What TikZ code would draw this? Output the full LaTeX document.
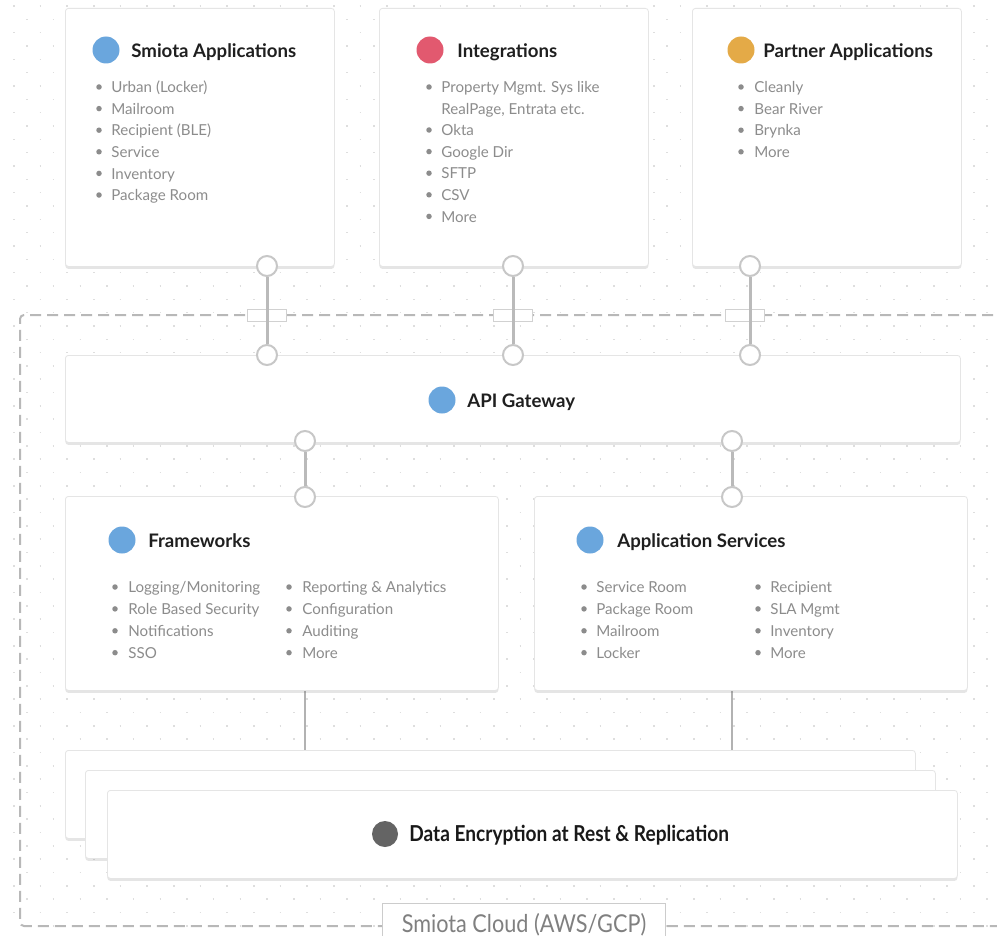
\documentclass[tikz,border=0pt]{standalone}
\usepackage{fontspec}
\setmainfont{Lato}
\newfontfamily\narrowfont[FakeStretch=0.87]{Lato}
\newfontfamily\tagfont[FakeStretch=0.88]{Lato}
\usetikzlibrary{shadows,backgrounds}
\definecolor{dotblue}{HTML}{6AA6DD}
\definecolor{dotred}{HTML}{E2596F}
\definecolor{dotorange}{HTML}{E4AA47}
\definecolor{dotdark}{HTML}{646464}
\newlength\px
\setlength\px{0.02cm}

\begin{document}
\begin{tikzpicture}
		[x=0.02cm,y=-0.02cm,
		card/.style={draw=black!10,fill=white,rounded corners=3\px,line width=0.8\px,
anchor=north west,inner sep=0pt,
drop shadow={opacity=0.14,shadow xshift=0pt,shadow yshift=-2.5\px,fill=black!70}},
		port/.style={circle,draw=black!22,fill=white,line width=2\px,
inner sep=0pt,minimum size=20\px},
		wire/.style={draw=black!27,line width=3\px},
		link/.style={draw=black!30,line width=1.5\px},
		dot/.style={circle,inner sep=0pt,minimum size=27\px},
		title/.style={anchor=west,inner sep=0pt,text=black!88,
text height=10.4pt,text depth=2pt,
font=\bfseries\fontsize{10.6}{12}\selectfont},
		bullet/.style={circle,fill=black!45,inner sep=0pt,minimum size=5.5\px},
		item/.style={anchor=west,inner sep=0pt,text=black!45,
text height=8.4pt,text depth=2pt,
font=\fontsize{8.6}{10}\selectfont},
		gridline/.style={draw=black!13,line width=1.5\px,
dash pattern=on 1.5\px off 25.17\px},
		cloudline/.style={draw=black!28,line width=2\px,rounded corners=4\px,
dash pattern=on 11\px off 6\px},
		gate/.style={draw=black!18,fill=white,line width=1\px,
inner sep=0pt,minimum width=39\px,minimum height=12\px},
		cloudtag/.style={draw=black!20,fill=white,line width=1\px,text=black!50,
minimum width=283\px,minimum height=40\px,text height=13pt,text depth=2.6pt,
font=\tagfont\fontsize{14}{16}\selectfont}]
		\useasboundingbox (0,0) rectangle (997,936);

		% client side
		\node[card,minimum width=269\px,minimum height=258\px] (sa) at (65,8) {};
		\node[dot,fill=dotblue] (sa-d) at (106,50) {};
		\node[title] (sa-t) at (131,50) {Smiota Applications};
		\foreach \t [count=\i] in {Urban (Locker),Mailroom,Recipient (BLE),Service,Inventory,Package Room} {
			\node[bullet] (sa-b\i) at (99,{65.4+21.6*\i}) {};
			\node[item] (sa-i\i) at (111,{65.4+21.6*\i}) {\t};
		}

		\node[card,minimum width=269\px,minimum height=258\px] (ig) at (379,8) {};
		\node[dot,fill=dotred] (ig-d) at (430,50) {};
		\node[title] (ig-t) at (457,50) {Integrations};
		\node[bullet] (ig-b1) at (429,87) {};
		\node[item] (ig-i1) at (441,87) {Property Mgmt. Sys like};
		\node[item] (ig-i1b) at (441,108.6) {RealPage, Entrata etc.};
		\foreach \t [count=\i from 2] in {Okta,Google Dir,SFTP,CSV,More} {
			\node[bullet] (ig-b\i) at (429,{86.8+21.6*\i}) {};
			\node[item] (ig-i\i) at (441,{86.8+21.6*\i}) {\t};
		}

		\node[card,minimum width=269\px,minimum height=258\px] (pa) at (692,8) {};
		\node[dot,fill=dotorange] (pa-d) at (741,50) {};
		\node[title] (pa-t) at (763,50) {Partner Applications};
		\foreach \t [count=\i] in {Cleanly,Bear River,Brynka,More} {
			\node[bullet] (pa-b\i) at (741,{65.4+21.6*\i}) {};
			\node[item] (pa-i\i) at (754,{65.4+21.6*\i}) {\t};
		}

		% cloud side
		\node[card,minimum width=895\px,minimum height=87\px] (gw) at (65,355) {};
		\node[dot,fill=dotblue] (gw-d) at (442,400) {};
		\node[title] (gw-t) at (467,400) {API Gateway};

		\node[card,minimum width=433\px,minimum height=194\px] (fw) at (65,496) {};
		\node[dot,fill=dotblue] (fw-d) at (122,540) {};
		\node[title] (fw-t) at (148,540) {Frameworks};
		\foreach \t [count=\i] in {Logging/Monitoring,Role Based Security,Notifications,SSO} {
			\node[bullet] (fw-b\i) at (115,{565.1+21.9*\i}) {};
			\node[item] (fw-i\i) at (128,{565.1+21.9*\i}) {\t};
		}
		\foreach \t [count=\i] in {Reporting \& Analytics,Configuration,Auditing,More} {
			\node[bullet] (fw-c\i) at (289,{565.1+21.9*\i}) {};
			\node[item] (fw-j\i) at (302,{565.1+21.9*\i}) {\t};
		}

		\node[card,minimum width=433\px,minimum height=194\px] (as) at (534,496) {};
		\node[dot,fill=dotblue] (as-d) at (590,540) {};
		\node[title] (as-t) at (617,540) {Application Services};
		\foreach \t [count=\i] in {Service Room,Package Room,Mailroom,Locker} {
			\node[bullet] (as-b\i) at (584,{565.1+21.9*\i}) {};
			\node[item] (as-i\i) at (596,{565.1+21.9*\i}) {\t};
		}
		\foreach \t [count=\i] in {Recipient,SLA Mgmt,Inventory,More} {
			\node[bullet] (as-c\i) at (758,{565.1+21.9*\i}) {};
			\node[item] (as-j\i) at (770,{565.1+21.9*\i}) {\t};
		}

		% storage stack
		\node[card,minimum width=850\px,minimum height=88\px] (st1) at (65,750) {};
		\node[card,minimum width=850\px,minimum height=88\px] (st2) at (85,770) {};
		\node[card,minimum width=850\px,minimum height=88\px] (st3) at (107,790) {};
		\node[dot,fill=dotdark,minimum size=26\px] (st-d) at (385,834) {};
		\node[anchor=west,inner sep=0pt,text=black!90,
text height=11pt,text depth=2.4pt,
font=\narrowfont\bfseries\fontsize{12.5}{14}\selectfont] (st-t) at (409,834)
			{Data Encryption at Rest \& Replication};

		% ports
		\node[port] (sa-p) at (267,266) {};
		\node[port] (ig-p) at (513,266) {};
		\node[port] (pa-p) at (750,266) {};
		\node[port] (gw-p1) at (267,355) {};
		\node[port] (gw-p2) at (513,355) {};
		\node[port] (gw-p3) at (750,355) {};
		\node[port] (gw-p4) at (305,441) {};
		\node[port] (gw-p5) at (732,441) {};
		\node[port] (fw-p) at (305,497) {};
		\node[port] (as-p) at (732,497) {};
		\coordinate (fw-o) at (305,690);
		\coordinate (as-o) at (732,690);
		\coordinate (st-a) at (305,750);
		\coordinate (st-b) at (732,750);

		\node[cloudtag] (cloud) at (524,923) {Smiota Cloud (AWS/GCP)};

		\begin{scope}[on background layer]
			\fill[white] (0,0) rectangle (997,936);
			\foreach \r in {0,...,70} {
				\pgfmathsetmacro\gy{6+13.33*\r}
				\pgfmathsetmacro\gx{mod(\r,2)==0 ? 13 : 26.3}
				\draw[gridline] (\gx,\gy) -- (1000,\gy);
			}
			\draw[cloudline] (1010,315) -- (20,315) -- (20,926) -- (1010,926);
			\node[gate] (sa-g) at (267,315) {};
			\node[gate] (ig-g) at (513,315) {};
			\node[gate] (pa-g) at (745,315) {};
			\draw[wire] (sa-p) -- (gw-p1);
			\draw[wire] (ig-p) -- (gw-p2);
			\draw[wire] (pa-p) -- (gw-p3);
			\draw[wire] (gw-p4) -- (fw-p);
			\draw[wire] (gw-p5) -- (as-p);
			\draw[link] (fw-o) -- (st-a);
			\draw[link] (as-o) -- (st-b);
		\end{scope}
	\end{tikzpicture}
\end{document}
